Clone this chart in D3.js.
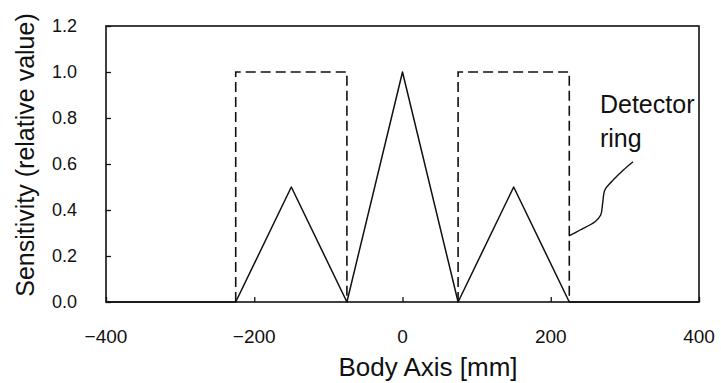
<!DOCTYPE html>
<html>
<head>
<meta charset="utf-8">
<script src="https://cdn.jsdelivr.net/npm/d3@7/dist/d3.min.js"></script>
<style>
  html, body { margin: 0; padding: 0; background: #fff; }
  svg { display: block; }
  text { font-family: "Liberation Sans", Arial, Helvetica, sans-serif; fill: #111; }
</style>
</head>
<body>
<svg id="chart" width="721" height="383"></svg>
<script>
// Axis ticks
const xTicks = [-400, -200, 0, 200, 400];
const yTicks = [0.0, 0.2, 0.4, 0.6, 0.8, 1.0, 1.2];

// Sensitivity profile along the body axis (mm, relative value)
const sensX = [-400, -225, -150, -75, 0, 75, 150, 225, 400];
const sensY = [0, 0, 0.5, 0, 1.0, 0, 0.5, 0, 0];

// Detector ring extents (dashed outlines)
const ringStart = [-225, 75];
const ringEnd = [-75, 225];
const ringHeight = 1.0;

// Leader from the "Detector ring" label to the right ring
const leaderX = [311, 298, 282, 273, 270, 267.4, 259.7, 239.5, 224.6];
const leaderY = [0.61, 0.574, 0.523, 0.487, 0.429, 0.378, 0.349, 0.313, 0.287];

const svg = d3.select("#chart");
const plotLeft = 106, plotRight = 699, plotTop = 26, plotBottom = 302;

const x = d3.scaleLinear().domain([-400, 400]).range([plotLeft, plotRight]);
const y = d3.scaleLinear().domain([0, 1.2]).range([plotBottom, plotTop]);

// Plot frame
svg.append("rect")
  .attr("x", plotLeft).attr("y", plotTop)
  .attr("width", plotRight - plotLeft).attr("height", plotBottom - plotTop)
  .attr("fill", "none").attr("stroke", "#111").attr("stroke-width", 1.6);

// Y axis: inward ticks, labels to the left
const yAxis = d3.axisRight(y).tickValues(yTicks).tickSize(5).tickFormat("");
svg.append("g").attr("transform", `translate(${plotLeft},0)`).call(yAxis)
  .call(g => g.select(".domain").remove())
  .call(g => g.selectAll("line").attr("stroke", "#111").attr("stroke-width", 1.3));
svg.append("g").selectAll("text").data(yTicks).join("text")
  .attr("x", 77).attr("y", d => y(d)).attr("dy", "0.35em")
  .attr("text-anchor", "end").attr("font-size", 18)
  .text(d3.format(".1f"));

// X axis: inward ticks, labels below
const xAxis = d3.axisTop(x).tickValues(xTicks).tickSize(5).tickFormat("");
svg.append("g").attr("transform", `translate(0,${plotBottom})`).call(xAxis)
  .call(g => g.select(".domain").remove())
  .call(g => g.selectAll("line").attr("stroke", "#111").attr("stroke-width", 1.3));
svg.append("g").selectAll("text").data(xTicks).join("text")
  .attr("x", d => x(d)).attr("y", 343)
  .attr("text-anchor", "middle").attr("font-size", 19)
  .text(d => d < 0 ? "\u2212" + Math.abs(d) : d);

// Axis titles
svg.append("text").attr("x", 428).attr("y", 376)
  .attr("text-anchor", "middle").attr("font-size", 26)
  .text("Body Axis [mm]");
svg.append("text")
  .attr("transform", "translate(34,155) rotate(-90)")
  .attr("text-anchor", "middle").attr("font-size", 25)
  .text("Sensitivity (relative value)");

// Detector rings, dashed
const ringPts = ringStart.map((s, i) => [[s, 0], [s, ringHeight], [ringEnd[i], ringHeight], [ringEnd[i], 0]]);
const line = d3.line().x(d => x(d[0])).y(d => y(d[1]));
svg.append("g").selectAll("path").data(ringPts).join("path")
  .attr("d", line).attr("fill", "none")
  .attr("stroke", "#111").attr("stroke-width", 1.6)
  .attr("stroke-dasharray", "10,5");

// Sensitivity profile
const profile = sensX.map((v, i) => [v, sensY[i]]);
svg.append("path").datum(profile)
  .attr("d", line).attr("fill", "none")
  .attr("stroke", "#111").attr("stroke-width", 1.5).attr("stroke-linejoin", "round");

// Annotation
const leader = leaderX.map((v, i) => [v, leaderY[i]]);
svg.append("path").datum(leader)
  .attr("d", d3.line().x(d => x(d[0])).y(d => y(d[1])).curve(d3.curveCatmullRom))
  .attr("fill", "none").attr("stroke", "#111").attr("stroke-width", 1.4);
svg.append("text").attr("x", x(266.4)).attr("y", y(0.822))
  .attr("font-size", 25).text("Detector");
svg.append("text").attr("x", x(266.4)).attr("y", y(0.674))
  .attr("font-size", 25).text("ring");
</script>
</body>
</html>
